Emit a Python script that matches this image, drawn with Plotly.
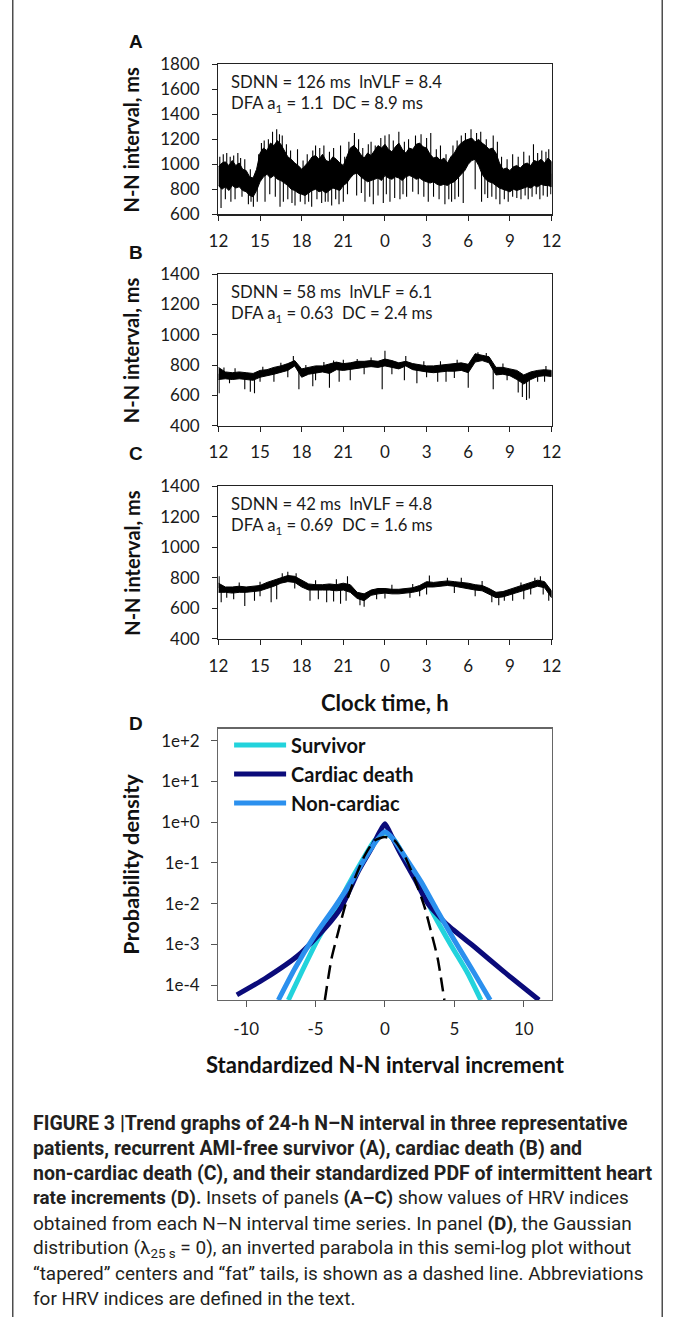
import numpy as np
import plotly.graph_objects as go

# window size and the photographed frame (window + ~10 px border, scaled back to 673x1317)
VW, VH = 673, 1317
SX, SY, PAD = 693 / 673, 1337 / 1317, 10

# ---------------- data: 24-h N-N interval trends (panels A-C) ----------------
hours_q = [i * 0.25 for i in range(97)]         # quarter-hour samples after 12:00
hours = [i * 0.5 for i in range(49)]            # half-hour samples after 12:00
tick_hours = [0, 3, 6, 9, 12, 15, 18, 21, 24]
tick_clock = ["12", "15", "18", "21", "0", "3", "6", "9", "12"]

# panel A: dense core of the trace (upper / lower edge, ms), quarter-hour resolution
a_hi = [980, 1010, 1020, 990, 1030, 990, 1010, 960, 950, 900, 890, 960, 1090, 1130, 1110, 1170,
        1150, 1190, 1160, 1110, 1060, 1040, 1010, 990, 960, 990, 1020, 1060, 1070, 1040, 1080, 1030,
        1020, 1060, 1040, 1010, 990, 1060, 1130, 1150, 1120, 1080, 1050, 1090, 1070, 1110, 1150, 1130,
        1160, 1120, 1100, 1140, 1170, 1120, 1090, 1130, 1120, 1160, 1170, 1140, 1130, 1080, 1050, 1060,
        1030, 1050, 1010, 1060, 1090, 1140, 1170, 1190, 1200, 1210, 1180, 1200, 1170, 1150, 1120, 1130,
        1090, 1010, 960, 970, 950, 980, 990, 970, 1000, 1010, 990, 1030, 1020, 1040, 1010, 1050, 1020]
a_lo = [830, 800, 820, 790, 830, 810, 820, 790, 780, 750, 740, 790, 860, 900, 920, 890,
        910, 880, 870, 850, 830, 800, 790, 770, 760, 750, 770, 790, 800, 780, 790, 770,
        790, 810, 800, 790, 830, 850, 890, 920, 930, 900, 880, 860, 870, 880, 890, 870,
        910, 890, 880, 900, 890, 870, 900, 910, 900, 880, 890, 870, 860, 850, 860, 840,
        830, 840, 830, 850, 860, 890, 920, 950, 1000, 1030, 1040, 990, 920, 880, 860, 850,
        830, 810, 800, 790, 780, 800, 790, 800, 810, 820, 810, 830, 820, 840, 830, 830, 820]
a_spike_t = [0.19, 0.5, 0.9, 1.2, 1.7, 2.16, 2.35, 2.52, 2.8, 3.36, 3.7, 4.1, 4.44, 4.68, 5.0, 5.3, 5.52,
             5.9, 6.24, 6.5, 6.72, 7.1, 7.44, 7.7, 7.9, 8.16, 8.45, 8.69, 9.0, 9.3, 9.96, 10.3, 10.56, 10.9,
             11.16, 11.5, 11.88, 12.1, 12.36, 12.7, 13.08, 13.3, 13.56, 14.0, 14.4, 14.8, 15.12, 15.5, 15.9,
             16.32, 16.6, 16.8, 17.04, 17.3, 17.64, 18.5, 18.96, 19.2, 19.4, 19.7, 20.0, 20.28, 20.6, 20.88,
             21.2, 21.5, 21.8, 22.1, 22.32, 22.6, 22.9, 23.16, 23.4, 23.7, 23.95,
             0.1, 0.35, 0.6, 0.85, 1.1, 1.4, 1.6, 1.9, 2.3, 2.9, 3.1, 3.3, 3.6, 3.9, 4.2, 4.4, 4.6, 4.9, 5.2,
             5.7, 6.1, 6.4, 6.8, 7.0, 7.3, 7.6, 8.0, 8.3, 8.8, 9.1, 9.4, 9.8, 10.1, 10.4, 10.8, 11.0, 11.3,
             11.7, 12.0, 12.3, 12.6, 13.0, 13.4, 13.7, 14.2, 14.6, 15.0, 15.3, 15.7, 16.0, 16.4, 16.9, 17.2,
             17.5, 17.8, 18.2, 18.6, 18.9, 19.3, 19.8, 20.1, 20.4, 20.8, 21.2, 21.6, 22.0, 22.4, 22.7, 23.0,
             23.3, 23.6, 23.8]
a_spike_v = [650, 720, 700, 720, 740, 680, 700, 660, 700, 700, 760, 740, 660, 700, 720, 690, 670,
             700, 680, 700, 660, 720, 690, 700, 700, 670, 720, 680, 700, 760, 750, 770, 700, 740,
             680, 750, 690, 760, 700, 730, 720, 760, 740, 780, 760, 740, 700, 740, 720,
             680, 720, 700, 720, 740, 690, 800, 700, 760, 730, 740, 720, 680, 720, 700,
             740, 730, 720, 750, 720, 740, 760, 720, 750, 740, 760,
             1060, 1080, 1090, 1060, 1070, 1090, 1050, 1040, 960, 1080, 1170, 1190, 1200, 1260, 1280, 1240,
             1230, 1160, 1110, 1120, 1030, 1080, 1110, 1150, 1130, 1150, 1100, 1130, 1150, 1060, 1180, 1250,
             1200, 1130, 1160, 1180, 1150, 1210, 1230, 1240, 1190, 1260, 1180, 1200, 1230, 1240, 1210, 1250,
             1120, 1150, 1080, 1150, 1190, 1230, 1250, 1280, 1250, 1260, 1200, 1230, 1180, 1060, 1040, 1080,
             1060, 1100, 1070, 1160, 1090, 1110, 1100, 1120]

# panel B (half-hour resolution)
b_hi = [785, 755, 750, 755, 750, 745, 765, 770, 785, 795, 810, 830, 775, 785, 795, 795, 805, 820, 810, 815,
        825, 825, 830, 825, 840, 830, 815, 825, 810, 800, 795, 795, 800, 805, 810, 815, 805, 875, 865, 855,
        785, 785, 775, 765, 735, 755, 765, 770, 765]
b_lo = [705, 710, 705, 710, 705, 700, 720, 730, 740, 750, 765, 795, 720, 740, 750, 755, 745, 770, 765, 775,
        780, 785, 790, 785, 795, 785, 775, 795, 770, 760, 755, 750, 755, 760, 760, 765, 750, 820, 830, 815,
        735, 740, 730, 705, 675, 705, 725, 730, 725]
b_spike_t = [0.05, 1.9, 2.3, 2.6, 4.0, 5.8, 6.8, 8.0, 8.7, 9.5, 11.8, 13.4, 14.3, 15.8, 16.4, 18.0, 19.8,
             21.6, 21.9, 22.2, 22.4, 23.0, 0.8, 3.0, 5.0, 7.0, 10.5, 12.5, 15.0, 17.0, 20.8, 23.5,
             5.4, 12.0, 13.5, 18.7, 7.6, 10.0, 19.3, 0.4, 1.2, 3.2, 4.5, 6.3, 8.3, 9.0, 11.0, 14.8, 16.0,
             17.2, 20.5, 23.6]
b_spike_v = [615, 640, 625, 615, 690, 640, 660, 650, 690, 700, 640, 700, 680, 690, 690, 650, 640,
             620, 590, 570, 580, 690, 680, 690, 720, 700, 740, 740, 720, 715, 700, 690,
             860, 895, 860, 885, 820, 840, 880, 785, 780, 790, 815, 800, 830, 835, 850, 825, 825,
             835, 810, 795]

# panel C (half-hour resolution)
c_hi = [765, 740, 740, 745, 740, 745, 750, 770, 785, 805, 815, 810, 785, 760, 755, 755, 760, 755, 765, 755,
        705, 695, 720, 730, 730, 725, 725, 730, 735, 750, 775, 770, 775, 780, 775, 770, 765, 755, 750, 730,
        705, 710, 725, 740, 750, 765, 785, 775, 715]
c_lo = [705, 705, 700, 705, 705, 710, 715, 730, 745, 765, 775, 770, 740, 720, 720, 720, 720, 715, 720, 705,
        665, 650, 685, 695, 700, 695, 695, 700, 705, 715, 740, 740, 745, 750, 745, 740, 730, 720, 715, 695,
        670, 675, 690, 705, 715, 730, 745, 735, 670]
c_spike_t = [0.2, 1.1, 1.9, 2.6, 3.8, 4.2, 6.6, 7.2, 7.8, 8.3, 8.8, 9.2, 10.2, 10.5, 11.4, 13.8, 15.0, 19.7,
             20.2, 20.6, 21.2, 22.0, 23.8, 0.6, 3.0, 5.5, 12.0, 14.5, 17.0, 18.5, 22.5, 23.4,
             0.05, 5.0, 5.6, 9.3, 15.2, 16.5, 23.2, 1.5, 3.0, 4.6, 7.0, 8.5, 12.5, 14.0, 17.5, 19.0, 21.8,
             22.8]
c_spike_v = [640, 660, 615, 650, 640, 660, 650, 660, 640, 645, 630, 650, 620, 610, 660, 670, 690, 640,
             620, 650, 650, 660, 650, 670, 680, 730, 665, 680, 700, 680, 690, 690,
             810, 840, 830, 810, 815, 800, 810, 770, 775, 830, 785, 790, 755, 760, 800, 780, 770,
             800]

insets = [("SDNN = 126 ms&nbsp; lnVLF = 8.4", "DFA a<sub>1</sub> = 1.1&nbsp; DC = 8.9 ms"),
          ("SDNN = 58 ms&nbsp; lnVLF = 6.1", "DFA a<sub>1</sub> = 0.63&nbsp; DC = 2.4 ms"),
          ("SDNN = 42 ms&nbsp; lnVLF = 4.8", "DFA a<sub>1</sub> = 0.69&nbsp; DC = 1.6 ms")]

# ---------------- data: standardized PDFs (panel D) ----------------
surv_x = [-6.96, -6.0, -4.81, -3.61, -2.66, -1.70, -0.74, 0.0, 0.69, 1.65, 2.61, 3.56, 4.76, 5.96, 6.91]
surv_y = [4.3e-5, 2.1e-4, 1.38e-3, 6.9e-3, 0.028, 0.105, 0.355, 0.55, 0.355, 0.095, 0.023, 5.1e-3, 9.5e-4,
          1.95e-4, 4.3e-5]
card_x = [-10.67, -8.64, -6.24, -4.33, -3.13, -1.94, -0.98, -0.38, 0.0, 0.33, 1.05, 2.13, 3.09, 4.52, 6.44,
          8.59, 11.1]
card_y = [5.75e-5, 1.45e-4, 5.4e-4, 2.45e-3, 8.3e-3, 0.060, 0.224, 0.575, 0.91, 0.575, 0.186, 0.041, 0.010,
          2.95e-3, 8.7e-4, 2.1e-4, 4.3e-5]
nonc_x = [-7.68, -6.48, -5.05, -3.61, -2.42, -1.46, -0.50, 0.0, 0.57, 1.53, 2.61, 3.68, 5.0, 6.44, 7.58]
nonc_y = [4.3e-5, 2.6e-4, 1.66e-3, 8.3e-3, 0.034, 0.126, 0.39, 0.575, 0.39, 0.126, 0.034, 7.6e-3, 1.26e-3,
          1.95e-4, 4.3e-5]
gaus_x = [-4.33, -3.85, -3.37, -2.89, -2.18, -1.46, -0.74, 0.0, 0.69, 1.41, 2.13, 2.85, 3.33, 3.80, 4.28]
gaus_y = [4.3e-5, 4.5e-4, 2.0e-3, 8.3e-3, 0.041, 0.151, 0.355, 0.427, 0.355, 0.151, 0.041, 8.3e-3, 2.0e-3,
          4.5e-4, 4.3e-5]
pdf_xticks = [-10, -5, 0, 5, 10]
pdf_xtext = ["-10", "-5", "0", "5", "10"]
pdf_tickvals = [1e2, 1e1, 1e0, 1e-1, 1e-2, 1e-3, 1e-4]
pdf_ticktext = ["1e+2", "1e+1", "1e+0", "1e-1", "1e-2", "1e-3", "1e-4"]


# ---------------- layout helpers (reference picture pixels -> paper) ----------------
def PX(px):
    return (px * SX - PAD) / VW


def PY(py):
    return 1 - (py * SY - PAD) / VH


SANS = "Lato, 'Open Sans', sans-serif"
TICKFONT = dict(family=SANS, size=17, color="#1a1a1a")
box_left, box_right = 218.3, 551.7
panels = [(63.3, 213.3, [600, 1800]), (273.3, 425.0, [400, 1400]), (485.7, 638.3, [400, 1400])]
series = [(hours_q, a_hi, a_lo, a_spike_t, a_spike_v),
          (hours, b_hi, b_lo, b_spike_t, b_spike_v),
          (hours, c_hi, c_lo, c_spike_t, c_spike_v)]

fig = go.Figure()
annotations = []

for i, ((top, bot, yr), (tt, hi, lo, st, sv)) in enumerate(zip(panels, series)):
    xa = "x" if i == 0 else f"x{i + 1}"
    ya = "y" if i == 0 else f"y{i + 1}"
    fig.add_trace(go.Scatter(x=tt + tt[::-1], y=hi + lo[::-1], fill="toself",
                             fillcolor="black", mode="lines", line=dict(color="black", width=1),
                             xaxis=xa, yaxis=ya, showlegend=False, hoverinfo="skip"))
    mid = (np.array(hi) + np.array(lo)) / 2
    base = np.interp(st, tt, mid)
    sx, sy = [], []
    for t, b, v in zip(st, base, sv):
        sx += [t, t, None]
        sy += [float(b), v, None]
    fig.add_trace(go.Scatter(x=sx, y=sy, mode="lines", line=dict(color="black", width=1.1),
                             xaxis=xa, yaxis=ya, showlegend=False, hoverinfo="skip"))
    axx = dict(domain=[PX(box_left), PX(box_right)], range=[0, 24], tickvals=tick_hours,
               ticktext=tick_clock, ticks="outside", ticklen=5, tickcolor="#222", showline=True,
               linecolor="#222", linewidth=1.3, mirror=True, showgrid=False, zeroline=False,
               tickfont=TICKFONT, ticklabelstandoff=6, anchor=ya, fixedrange=True)
    axy = dict(domain=[PY(bot), PY(top)], range=yr, dtick=200, ticks="outside", ticklen=5,
               tickcolor="#222", showline=True, linecolor="#222", linewidth=1.3, mirror=True,
               showgrid=False, zeroline=False, tickfont=TICKFONT, ticklabelstandoff=9, anchor=xa,
               fixedrange=True)
    fig.layout["xaxis" if i == 0 else f"xaxis{i + 1}"] = axx
    fig.layout["yaxis" if i == 0 else f"yaxis{i + 1}"] = axy
    annotations.append(dict(x=PX(131), y=PY((top + bot) / 2), text="N-N interval, ms", textangle=-90,
                            xanchor="center", yanchor="middle",
                            font=dict(family=SANS, size=20, weight="bold", color="#111")))
    for k, line in enumerate(insets[i]):
        annotations.append(dict(x=PX(229), y=PY(top + 18 + 22 * k), text=line, xanchor="left",
                                yanchor="middle", font=dict(family=SANS, size=16.7, color="#1a1a1a")))

# ---------------- panel D ----------------
d_top, d_bot = 728.3, 1000.0
colors = {"Survivor": "#22D3DC", "Cardiac death": "#0B0B7A", "Non-cardiac": "#2B90EE"}
for name, xs, ys in [("Survivor", surv_x, surv_y), ("Cardiac death", card_x, card_y),
                     ("Non-cardiac", nonc_x, nonc_y)]:
    fig.add_trace(go.Scatter(x=xs, y=ys, mode="lines", name=name, xaxis="x4", yaxis="y4",
                             legendgroup=name,
                             line=dict(color=colors[name], width=5, shape="spline", smoothing=0.6)))
fig.add_trace(go.Scatter(x=gaus_x, y=gaus_y, mode="lines", name="Gaussian", xaxis="x4", yaxis="y4",
                         showlegend=False,
                         line=dict(color="black", width=2.5, dash="14px,7px", shape="spline", smoothing=0.6)))

fig.layout["xaxis4"] = dict(domain=[PX(box_left), PX(box_right)], range=[-12, 12],
                            tickvals=pdf_xticks, ticktext=pdf_xtext, ticks="outside", ticklen=6,
                            tickcolor="#555", showline=True, linecolor="#666", linewidth=1.3, mirror=True,
                            showgrid=False, zeroline=False, tickfont=TICKFONT, ticklabelstandoff=7,
                            anchor="y4", fixedrange=True)
fig.layout["yaxis4"] = dict(domain=[PY(d_bot), PY(d_top)], type="log", range=[-4.37, 2.29],
                            tickvals=pdf_tickvals, ticktext=pdf_ticktext, ticks="outside", ticklen=6,
                            tickcolor="#555", showline=True, linecolor="#666", linewidth=1.3, mirror=True,
                            showgrid=False, zeroline=False, tickfont=TICKFONT, ticklabelstandoff=8,
                            anchor="x4", fixedrange=True)

annotations += [
    dict(x=PX(131), y=PY((d_top + d_bot) / 2), text="Probability density", textangle=-90,
         xanchor="center", yanchor="middle", font=dict(family=SANS, size=21.7, weight="bold", color="#111")),
    dict(x=PX(385), y=PY(702), text="Clock time, h", xanchor="center", yanchor="middle",
         font=dict(family=SANS, size=22, weight="bold", color="#111")),
    dict(x=PX(386), y=PY(1064), text="Standardized N-N interval increment", xanchor="center",
         yanchor="middle", font=dict(family=SANS, size=22, weight="bold", color="#111")),
]
for lab, ypx in [("A", 40), ("B", 252), ("C", 453), ("D", 723)]:
    annotations.append(dict(x=PX(136), y=PY(ypx), text=lab, xanchor="center", yanchor="middle",
                            font=dict(family="Liberation Sans, Arial, sans-serif", size=19, weight="bold",
                                      color="#111")))

caption = [
    "<b>FIGURE 3 |Trend graphs of 24-h N–N interval in three representative</b>",
    "<b>patients, recurrent AMI-free survivor (A), cardiac death (B) and</b>",
    "<b>non-cardiac death (C), and their standardized PDF of intermittent heart</b>",
    "<b>rate increments (D).</b> Insets of panels <b>(A–C)</b> show values of HRV indices",
    "obtained from each N–N interval time series. In panel <b>(D)</b>, the Gaussian",
    "distribution (λ<sub>25 s</sub> = 0), an inverted parabola in this semi-log plot without",
    "“tapered” centers and “fat” tails, is shown as a dashed line. Abbreviations",
    "for HRV indices are defined in the text.",
]
caption_size = [19.5, 19.5, 19.5, 18.8, 19, 19, 18.9, 19]
for k, (line, fs) in enumerate(zip(caption, caption_size)):
    annotations.append(dict(x=PX(31), y=PY(1123 + 25.1 * k), text=line, xanchor="left", yanchor="middle",
                            font=dict(family="Roboto, 'Liberation Sans', sans-serif", size=fs,
                                      color="#231f20")))

for a in annotations:
    a.setdefault("xref", "paper")
    a.setdefault("yref", "paper")
    a.setdefault("showarrow", False)

fig.update_layout(
    autosize=True, margin=dict(l=0, r=0, t=0, b=0),
    paper_bgcolor="white", plot_bgcolor="white",
    annotations=annotations,
    shapes=[dict(type="rect", xref="paper", yref="paper", x0=PX(12.5), x1=PX(662.5), y0=-0.02, y1=1.02,
                 line=dict(color="#333", width=1.3))],
    legend=dict(x=PX(229), y=PY(725), xanchor="left", yanchor="top", bgcolor="rgba(0,0,0,0)",
                font=dict(family=SANS, size=20, weight="bold", color="#111"), itemwidth=52,
                tracegroupgap=3, traceorder="normal"),
    showlegend=True,
)

# the plot div is pinned to the window so that it fills it exactly
fig.write_html("out.html", config={"displayModeBar": False, "staticPlot": True, "responsive": True},
               default_width="100vw", default_height="100vh; position:fixed; top:0; left:0")
